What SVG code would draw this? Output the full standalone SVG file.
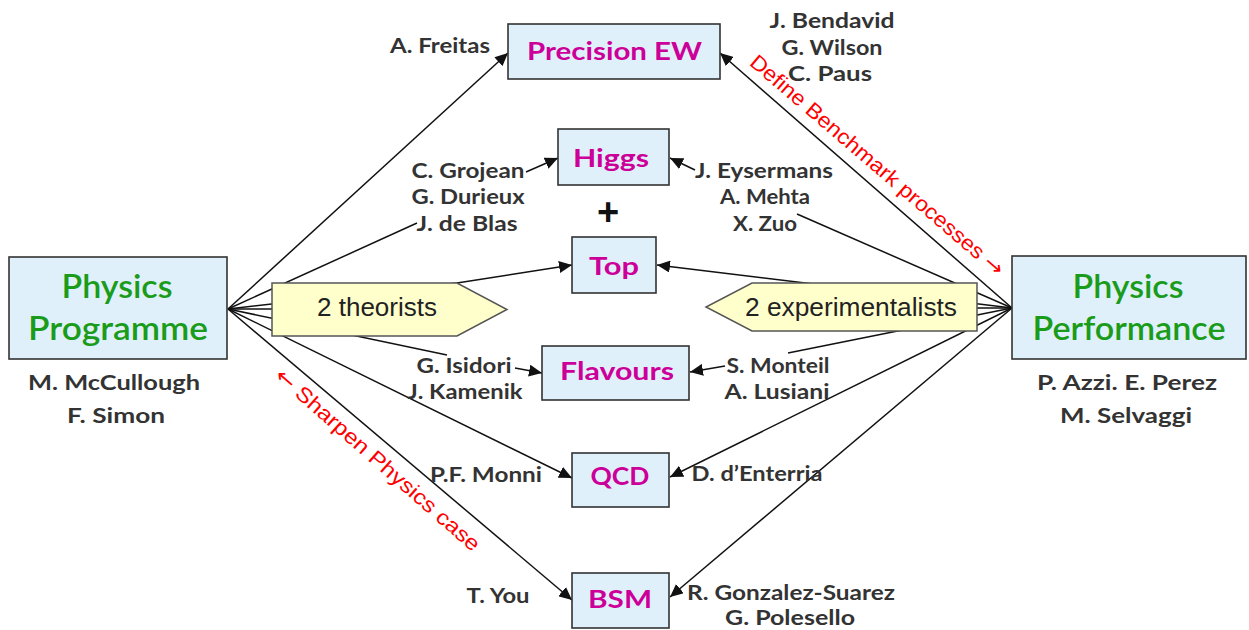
<svg xmlns="http://www.w3.org/2000/svg" width="1249" height="630" viewBox="0 0 1249 630">
<defs>
<marker id="ah" markerUnits="userSpaceOnUse" markerWidth="14" markerHeight="12" refX="13" refY="6" orient="auto">
<path d="M0,0 L13,6 L0,12 z" fill="#111"/>
</marker>
<style>
.box{fill:#dff0fb;stroke:#333;stroke-width:1.6}
.big{font-family:Lato,"Open Sans",sans-serif;font-weight:600;font-size:33px;fill:#1a9c1a;text-anchor:middle}
.lab{font-family:Lato,"Open Sans",sans-serif;font-weight:700;font-size:25px;fill:#cc0099;text-anchor:middle}
.nm{font-family:Lato,"Open Sans",sans-serif;font-weight:700;font-size:20px;fill:#333;text-anchor:middle}
.pent{fill:#ffffcc;stroke:#555;stroke-width:1.5}
.pt{font-family:"Liberation Sans",Arial,sans-serif;font-size:26px;fill:#222;text-anchor:middle}
.red{font-family:"Liberation Sans",Arial,sans-serif;font-size:21px;fill:#ff0000;text-anchor:middle}
.arw{font-family:"DejaVu Sans",sans-serif}
.ln{stroke:#111;stroke-width:1.5;fill:none}
.ar{marker-end:url(#ah)}
</style>
</defs>
<rect width="1249" height="630" fill="#fff"/>

<g id="connectors">
<line class="ln ar" x1="228" y1="309" x2="508" y2="53"/>
<line class="ln" x1="228" y1="309" x2="417" y2="223"/>
<line class="ln ar" x1="526" y1="172" x2="558" y2="158"/>
<polyline class="ln ar" points="228,309 457,283 572,265"/>
<line class="ln" x1="228" y1="309" x2="300" y2="309"/>
<line class="ln" x1="228" y1="309" x2="447" y2="355"/>
<line class="ln ar" x1="515" y1="368" x2="542" y2="373"/>
<line class="ln ar" x1="228" y1="309" x2="572" y2="478"/>
<line class="ln ar" x1="228" y1="309" x2="572" y2="600"/>

<line class="ln ar" x1="1012" y1="308" x2="720" y2="53"/>
<line class="ln" x1="1012" y1="308" x2="797" y2="214"/>
<line class="ln ar" x1="695" y1="170" x2="670" y2="158"/>
<line class="ln ar" x1="1012" y1="308" x2="657" y2="265"/>
<line class="ln" x1="1012" y1="308" x2="940" y2="308"/>
<line class="ln" x1="1012" y1="308" x2="788" y2="353"/>
<line class="ln ar" x1="725" y1="366" x2="690" y2="372"/>
<line class="ln ar" x1="1012" y1="308" x2="670" y2="477"/>
<line class="ln ar" x1="1012" y1="308" x2="670" y2="597"/>
</g>

<g id="theorists">
<polygon class="pent" points="272,283 457,283 507,309.5 457,336 272,336"/>
<text class="pt" x="377" y="316" textLength="120" lengthAdjust="spacingAndGlyphs">2 theorists</text>
</g>
<g id="experimentalists">
<polygon class="pent" points="977,283 752,283 706,307 752,331 977,331"/>
<text class="pt" x="851" y="316" textLength="212" lengthAdjust="spacingAndGlyphs">2 experimentalists</text>
</g>

<g id="physics-programme">
<rect class="box" x="9" y="257" width="218" height="102"/>
<text class="big" x="117" y="298" textLength="111" lengthAdjust="spacingAndGlyphs">Physics</text>
<text class="big" x="118" y="340" textLength="180" lengthAdjust="spacingAndGlyphs">Programme</text>
<text class="nm" x="114" y="390" textLength="172" lengthAdjust="spacingAndGlyphs">M. McCullough</text>
<text class="nm" x="116" y="423" textLength="98" lengthAdjust="spacingAndGlyphs">F. Simon</text>
</g>

<g id="physics-performance">
<rect class="box" x="1012" y="256" width="234" height="103"/>
<text class="big" x="1128" y="298" textLength="111" lengthAdjust="spacingAndGlyphs">Physics</text>
<text class="big" x="1129" y="340" textLength="193" lengthAdjust="spacingAndGlyphs">Performance</text>
<text class="nm" x="1127" y="390" textLength="180" lengthAdjust="spacingAndGlyphs">P. Azzi. E. Perez</text>
<text class="nm" x="1126" y="423" textLength="132" lengthAdjust="spacingAndGlyphs">M. Selvaggi</text>
</g>

<g id="precision-ew">
<rect class="box" x="508" y="24" width="212" height="55"/>
<text class="lab" x="614.5" y="60" textLength="175" lengthAdjust="spacingAndGlyphs">Precision EW</text>
<text class="nm" x="440" y="53" textLength="100" lengthAdjust="spacingAndGlyphs">A. Freitas</text>
<text class="nm" x="832" y="28" textLength="125" lengthAdjust="spacingAndGlyphs">J. Bendavid</text>
<text class="nm" x="832" y="55" textLength="101" lengthAdjust="spacingAndGlyphs">G. Wilson</text>
<text class="nm" x="830" y="81" textLength="84" lengthAdjust="spacingAndGlyphs">C. Paus</text>
</g>

<g id="higgs">
<rect class="box" x="558" y="129" width="111" height="56"/>
<text class="lab" x="611" y="167" textLength="76" lengthAdjust="spacingAndGlyphs">Higgs</text>
<text class="nm" x="468" y="178" textLength="113" lengthAdjust="spacingAndGlyphs">C. Grojean</text>
<text class="nm" x="468" y="204" textLength="113" lengthAdjust="spacingAndGlyphs">G. Durieux</text>
<text class="nm" x="467" y="231" textLength="101" lengthAdjust="spacingAndGlyphs">J. de Blas</text>
<text class="nm" x="764" y="178" textLength="138" lengthAdjust="spacingAndGlyphs">J. Eysermans</text>
<text class="nm" x="765" y="204" textLength="90" lengthAdjust="spacingAndGlyphs">A. Mehta</text>
<text class="nm" x="765" y="231" textLength="64" lengthAdjust="spacingAndGlyphs">X. Zuo</text>
<text x="608" y="225" style="font-family:'Liberation Sans',Arial,sans-serif;font-weight:700;font-size:38px;fill:#111;text-anchor:middle">+</text>
</g>

<g id="top">
<rect class="box" x="572" y="237" width="84" height="56"/>
<text class="lab" x="614" y="275" textLength="50" lengthAdjust="spacingAndGlyphs">Top</text>
</g>

<g id="flavours">
<rect class="box" x="542" y="346" width="147" height="54"/>
<text class="lab" x="617" y="380" textLength="114" lengthAdjust="spacingAndGlyphs">Flavours</text>
<text class="nm" x="464" y="373" textLength="95" lengthAdjust="spacingAndGlyphs">G. Isidori</text>
<text class="nm" x="465" y="399" textLength="115" lengthAdjust="spacingAndGlyphs">J. Kamenik</text>
<text class="nm" x="778" y="373" textLength="103" lengthAdjust="spacingAndGlyphs">S. Monteil</text>
<text class="nm" x="777" y="399" textLength="105" lengthAdjust="spacingAndGlyphs">A. Lusiani</text>
</g>

<g id="qcd">
<rect class="box" x="572" y="453" width="97" height="54"/>
<text class="lab" x="620" y="485" textLength="59" lengthAdjust="spacingAndGlyphs">QCD</text>
<text class="nm" x="486" y="482" textLength="112" lengthAdjust="spacingAndGlyphs">P.F. Monni</text>
<text class="nm" x="757" y="481" textLength="131" lengthAdjust="spacingAndGlyphs">D. d’Enterria</text>
</g>

<g id="bsm">
<rect class="box" x="572" y="573" width="97" height="55"/>
<text class="lab" x="620" y="608" textLength="64" lengthAdjust="spacingAndGlyphs">BSM</text>
<text class="nm" x="498" y="603" textLength="63" lengthAdjust="spacingAndGlyphs">T. You</text>
<text class="nm" x="791" y="600" textLength="208" lengthAdjust="spacingAndGlyphs">R. Gonzalez-Suarez</text>
<text class="nm" x="790" y="625" textLength="130" lengthAdjust="spacingAndGlyphs">G. Polesello</text>
</g>

<g id="annotations">
<text class="red" transform="translate(872.6,170.6) rotate(40.6)" textLength="327" lengthAdjust="spacingAndGlyphs">Define Benchmark processes <tspan class="arw">→</tspan></text>
<text class="red" transform="translate(373,465) rotate(41.3)" textLength="265" lengthAdjust="spacingAndGlyphs"><tspan class="arw">←</tspan> Sharpen Physics case</text>
</g>
</svg>
